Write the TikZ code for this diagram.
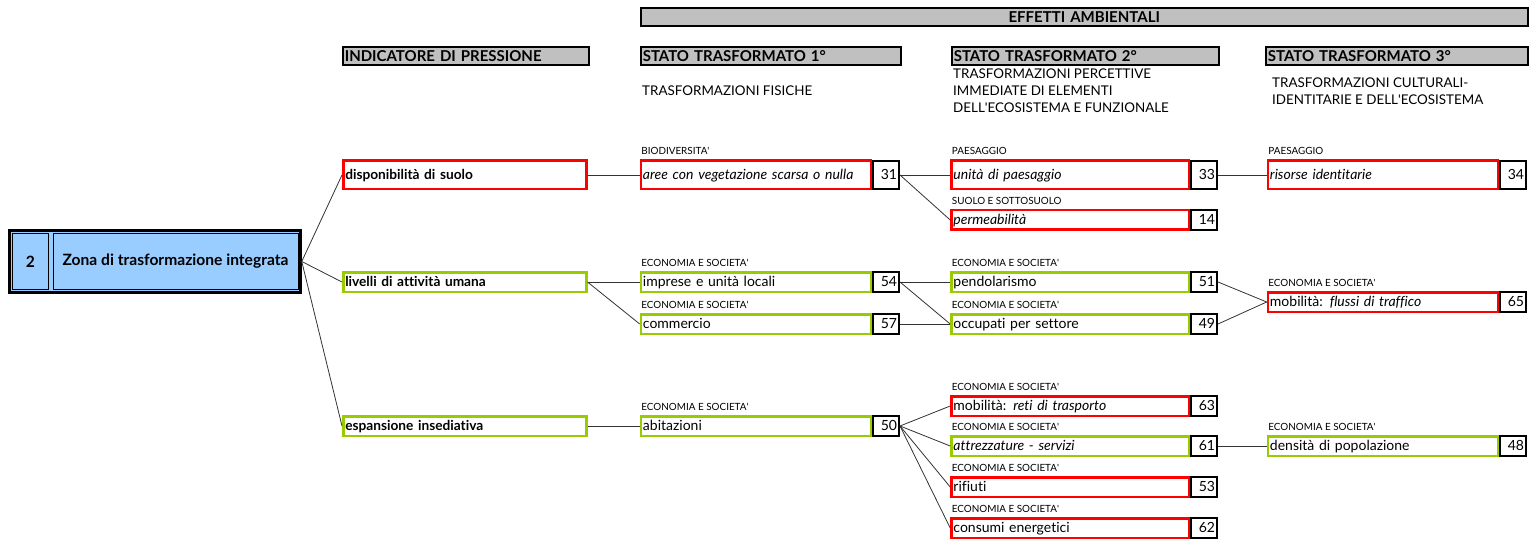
\documentclass[tikz,border=0pt]{standalone}
\usepackage{fontspec}
\setmainfont{Lato}[Ligatures={NoCommon}]
\usetikzlibrary{positioning}

\definecolor{boxred}{HTML}{FF0000}
\definecolor{boxgreen}{HTML}{99CC00}
\definecolor{boxblue}{HTML}{99CCFF}
\definecolor{hdrgray}{HTML}{C0C0C0}

\tikzset{
  hdr/.style={draw, line width=1.6pt, fill=hdrgray, minimum height=18.5pt, inner xsep=2pt, inner ysep=0pt,
    text height=11pt, text depth=0pt, anchor=west, text width=#1, align=left, font=\fontsize{15}{17}\selectfont\bfseries},
  sub/.style={anchor=north west, inner sep=0pt, align=left, font=\fontsize{13.4}{17}\selectfont},
  press/.style={draw=#1, line width=2.5pt, minimum height=19.5pt, inner xsep=2pt, inner ysep=0pt,
    text height=9pt, text depth=0pt, text width=239pt, align=left, anchor=west, font=\fontsize{13.7}{15}\selectfont\bfseries},
  item/.style={draw=#1, line width=2.5pt, minimum height=19.5pt, inner xsep=2pt, inner ysep=0pt,
    text height=9pt, text depth=0pt, text width=226pt, align=left, anchor=east, font=\fontsize{14}{15}\selectfont},
  wide/.style={text width=233.5pt},
  num/.style={draw, line width=1.8pt, minimum height=19.5pt, inner xsep=2pt, inner ysep=0pt,
    text height=9pt, text depth=0pt, text width=22pt, align=right, anchor=east, font=\fontsize{14}{15}\selectfont},
  tall/.style={minimum height=28.5pt},
  cat/.style={anchor=base west, inner sep=0pt, xshift=1.5pt, yshift=4.5pt, font=\fontsize{9.9}{11}\selectfont},
  link/.style={draw=black!80, line width=0.8pt},
}

\begin{document}
\begin{tikzpicture}[x=1pt, y=-1pt]
        \useasboundingbox (0,0) rectangle (1531,540);

        % intestazioni
        \node[hdr=883pt, align=center] (eff) at (640,17) {EFFETTI AMBIENTALI};
        \node[hdr=242pt] (hind) at (342,56) {INDICATORE DI PRESSIONE};
        \node[hdr=256pt] (hst1) at (640,56) {STATO TRASFORMATO 1°};
        \node[hdr=263pt] (hst2) at (951,56) {STATO TRASFORMATO 2°};
        \node[hdr=258pt] (hst3) at (1265,56) {STATO TRASFORMATO 3°};

        \node[sub] (sub1) at (642,86) {TRASFORMAZIONI FISICHE};
        \node[sub] (sub2) at (953,69) {TRASFORMAZIONI PERCETTIVE\\IMMEDIATE DI ELEMENTI\\DELL\textquotesingle ECOSISTEMA E FUNZIONALE};
        \node[sub] (sub3) at (1272,78) {TRASFORMAZIONI CULTURALI-\\IDENTITARIE E DELL\textquotesingle ECOSISTEMA};

        % zona
        \node[draw, line width=2.5pt, fill=boxblue, minimum width=291pt, minimum height=62pt] (zone) at (155,261.5) {};
        \node[draw, line width=1pt, minimum width=36pt, minimum height=56pt, font=\fontsize{15.6}{17}\selectfont\bfseries] (zid) at (30.5,261.5) {2};
        \node[draw, line width=1pt, minimum width=245pt, minimum height=56pt, font=\fontsize{15.6}{17}\selectfont\bfseries] (zname) at (175.5,261.5) {Zona di trasformazione integrata};

        % indicatori di pressione
        \node[press=boxred, tall] (p1) at (342,175) {disponibilità di suolo};
        \node[press=boxgreen] (p2) at (342,282) {livelli di attività umana};
        \node[press=boxgreen] (p3) at (342,426) {espansione insediativa};

        % stato trasformato 1
        \node[num, tall] (n31) at (900,175) {31};
        \node[item=boxred, tall] (c1a) at (n31.west) {\itshape aree con vegetazione scarsa o nulla};
        \node[num] (n54) at (900,282) {54};
        \node[item=boxgreen] (c1b) at (n54.west) {imprese e unità locali};
        \node[num] (n57) at (900,324) {57};
        \node[item=boxgreen] (c1c) at (n57.west) {commercio};
        \node[num] (n50) at (900,426) {50};
        \node[item=boxgreen] (c1d) at (n50.west) {abitazioni};

        % stato trasformato 2
        \node[num, tall] (n33) at (1218,175) {33};
        \node[item=boxred, wide, tall] (c2a) at (n33.west) {\itshape unità di paesaggio};
        \node[num] (n14) at (1218,220) {14};
        \node[item=boxred, wide] (c2b) at (n14.west) {\itshape permeabilità};
        \node[num] (n51) at (1218,282) {51};
        \node[item=boxgreen, wide] (c2c) at (n51.west) {pendolarismo};
        \node[num] (n49) at (1218,324) {49};
        \node[item=boxgreen, wide] (c2d) at (n49.west) {occupati per settore};
        \node[num] (n63) at (1218,406) {63};
        \node[item=boxred, wide] (c2e) at (n63.west) {mobilità: \textit{reti di trasporto}};
        \node[num] (n61) at (1218,446) {61};
        \node[item=boxgreen, wide] (c2f) at (n61.west) {\itshape attrezzature - servizi};
        \node[num] (n53) at (1218,487) {53};
        \node[item=boxred, wide] (c2g) at (n53.west) {rifiuti};
        \node[num] (n62) at (1218,528) {62};
        \node[item=boxred, wide] (c2h) at (n62.west) {consumi energetici};

        % stato trasformato 3
        \node[num, tall] (n34) at (1527,175) {34};
        \node[item=boxred, tall] (c3a) at (n34.west) {\itshape risorse identitarie};
        \node[num] (n65) at (1527,302) {65};
        \node[item=boxred] (c3b) at (n65.west) {mobilità: \textit{flussi di traffico}};
        \node[num] (n48) at (1527,446) {48};
        \node[item=boxgreen] (c3c) at (n48.west) {densità di popolazione};

        % categorie
        \node[cat] at (c1a.north west) {BIODIVERSITA\textquotesingle};
        \node[cat] at (c1b.north west) {ECONOMIA E SOCIETA\textquotesingle};
        \node[cat] at (c1c.north west) {ECONOMIA E SOCIETA\textquotesingle};
        \node[cat] at (c1d.north west) {ECONOMIA E SOCIETA\textquotesingle};
        \node[cat] at (c2a.north west) {PAESAGGIO};
        \node[cat] at (c2b.north west) {SUOLO E SOTTOSUOLO};
        \node[cat] at (c2c.north west) {ECONOMIA E SOCIETA\textquotesingle};
        \node[cat] at (c2d.north west) {ECONOMIA E SOCIETA\textquotesingle};
        \node[cat] at (c2e.north west) {ECONOMIA E SOCIETA\textquotesingle};
        \node[cat] at (c2f.north west) {ECONOMIA E SOCIETA\textquotesingle};
        \node[cat] at (c2g.north west) {ECONOMIA E SOCIETA\textquotesingle};
        \node[cat] at (c2h.north west) {ECONOMIA E SOCIETA\textquotesingle};
        \node[cat] at (c3a.north west) {PAESAGGIO};
        \node[cat] at (c3b.north west) {ECONOMIA E SOCIETA\textquotesingle};
        \node[cat] at (c3c.north west) {ECONOMIA E SOCIETA\textquotesingle};

        % collegamenti
        \draw[link] (zone.east) -- (p1.west);
        \draw[link] (zone.east) -- (p2.west);
        \draw[link] (zone.east) -- (p3.west);
        \draw[link] (p1.east) -- (c1a.west);
        \draw[link] (p2.east) -- (c1b.west);
        \draw[link] (p2.east) -- (c1c.west);
        \draw[link] (p3.east) -- (c1d.west);
        \draw[link] (n31.east) -- (c2a.west);
        \draw[link] (n31.east) -- (c2b.west);
        \draw[link] (n54.east) -- (c2c.west);
        \draw[link] (n54.east) -- (c2d.west);
        \draw[link] (n57.east) -- (c2d.west);
        \draw[link] (n50.east) -- (c2e.west);
        \draw[link] (n50.east) -- (c2f.west);
        \draw[link] (n50.east) -- (c2g.west);
        \draw[link] (n50.east) -- (c2h.west);
        \draw[link] (n33.east) -- (c3a.west);
        \draw[link] (n51.east) -- (c3b.west);
        \draw[link] (n49.east) -- (c3b.west);
        \draw[link] (n61.east) -- (c3c.west);
    \end{tikzpicture}
\end{document}
